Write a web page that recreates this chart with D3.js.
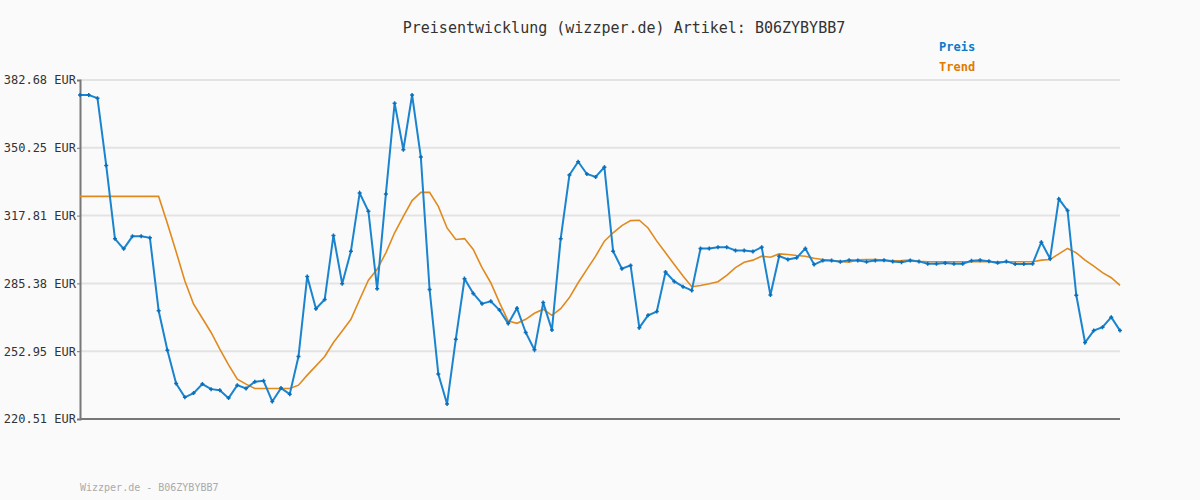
<!DOCTYPE html>
<html>
<head>
<meta charset="utf-8">
<script src="https://cdn.jsdelivr.net/npm/d3@7"></script>
<style>
  body { margin: 0; background: #fafafa; }
  text { font-family: "DejaVu Sans Mono", monospace; }
</style>
</head>
<body>
<svg id="chart" width="1200" height="500"></svg>
<script>
// price history
var preis = [375.5, 375.5, 374.0, 341.8, 306.7, 301.9, 307.9, 307.9, 307.2, 272.3,
  253.4, 237.5, 230.9, 232.9, 237.2, 234.8, 234.3, 230.5, 236.7, 235.1,
  238.3, 238.8, 228.9, 235.3, 232.4, 250.4, 288.7, 273.3, 277.7, 308.3,
  285.2, 300.8, 328.6, 319.9, 282.8, 328.2, 371.6, 349.3, 375.5, 345.8,
  282.5, 242.0, 227.7, 258.7, 287.6, 280.6, 275.7, 276.8, 272.6, 266.2,
  273.5, 261.9, 253.6, 276.2, 263.1, 306.7, 337.2, 343.6, 337.7, 336.3,
  341.0, 300.8, 292.4, 294.0, 264.2, 270.1, 271.9, 290.8, 286.3, 283.8,
  282.0, 302.1, 302.1, 302.7, 302.7, 301.1, 301.1, 300.6, 302.7, 279.8,
  298.4, 296.8, 297.6, 302.1, 294.4, 296.3, 296.3, 295.7, 296.5, 296.3,
  295.7, 296.3, 296.5, 295.9, 295.5, 296.3, 295.9, 294.8, 294.8, 295.1,
  294.8, 294.8, 296.2, 296.5, 296.0, 295.2, 295.9, 294.6, 294.6, 294.8,
  305.1, 297.2, 325.8, 320.2, 279.7, 257.1, 262.8, 264.4, 269.2, 262.8];

var trend = [327.0, 327.0, 327.0, 327.0, 327.0, 327.0, 327.0, 327.0, 327.0, 327.0,
  314.0, 300.5, 286.5, 275.4, 268.7, 261.9, 253.9, 246.4, 239.6, 237.2,
  235.1, 235.1, 235.1, 235.1, 235.1, 236.7, 241.5, 245.9, 250.4, 257.1,
  262.6, 268.2, 277.7, 286.9, 292.1, 300.0, 309.6, 317.5, 325.0, 328.9,
  328.9, 322.2, 311.9, 306.4, 306.8, 301.6, 292.9, 285.7, 276.2, 267.4,
  266.3, 268.2, 271.1, 273.0, 270.1, 273.3, 278.6, 285.7, 292.1, 298.4,
  305.6, 309.6, 313.0, 315.4, 315.6, 311.9, 305.6, 300.0, 294.4, 288.9,
  283.8, 284.4, 285.2, 286.2, 289.2, 292.9, 295.5, 296.5, 298.4, 297.9,
  299.5, 299.2, 298.7, 298.4, 297.4, 296.8, 296.3, 295.9, 295.5, 296.7,
  296.8, 296.8, 296.5, 296.2, 296.3, 296.5, 296.0, 295.7, 295.7, 295.7,
  295.7, 295.7, 295.7, 295.7, 295.7, 295.7, 295.7, 295.7, 295.7, 295.7,
  296.5, 296.8, 299.5, 302.1, 300.0, 296.5, 293.6, 290.5, 288.1, 284.4];

var yTicks = [220.51, 252.95, 285.38, 317.81, 350.25, 382.68];
var artikel = "B06ZYBYBB7";

var svg = d3.select("#chart");
var x = d3.scaleLinear().domain([0, preis.length - 1]).range([80, 1120]);
var y = d3.scaleLinear().domain([220.51, 382.68]).range([419, 80]);

// grid lines
svg.append("g")
  .selectAll("line")
  .data(yTicks.slice(1))
  .enter().append("line")
  .attr("x1", 80).attr("x2", 1120)
  .attr("y1", d => y(d)).attr("y2", d => y(d))
  .attr("stroke", "#e3e3e3").attr("stroke-width", 2);

// y axis
var yAxis = svg.append("g")
  .attr("transform", "translate(80,0)")
  .call(d3.axisLeft(y).tickValues(yTicks).tickSize(3).tickFormat(d => d.toFixed(2) + " EUR"));
yAxis.selectAll("text").attr("font-size", 12).attr("fill", "#333").attr("dx", "2");
yAxis.selectAll("line").attr("stroke", "#777");
yAxis.select(".domain").attr("stroke", "#777").attr("stroke-width", 2);

// x axis line
svg.append("line")
  .attr("x1", 80).attr("x2", 1120).attr("y1", 419).attr("y2", 419)
  .attr("stroke", "#777").attr("stroke-width", 2);

var line = d3.line().x((d, i) => x(i)).y(d => y(d));

svg.append("path").datum(trend)
  .attr("d", line).attr("fill", "none")
  .attr("stroke", "#e08a1e").attr("stroke-width", 1.6);

svg.append("path").datum(preis)
  .attr("d", line).attr("fill", "none")
  .attr("stroke", "#1a84cf").attr("stroke-width", 2);

// plus markers on the price points
svg.append("g").selectAll("path")
  .data(preis)
  .enter().append("path")
  .attr("d", (d, i) => {
    var px = x(i), py = y(d);
    return "M" + (px - 2) + "," + py + "H" + (px + 2) + "M" + px + "," + (py - 2) + "V" + (py + 2);
  })
  .attr("stroke", "#0a6fb8").attr("stroke-width", 1.5);

// title
svg.append("text")
  .attr("x", 624).attr("y", 33).attr("text-anchor", "middle")
  .attr("font-size", 15).attr("fill", "#333")
  .text("Preisentwicklung (wizzper.de) Artikel: " + artikel);

// legend
svg.append("text").attr("x", 939).attr("y", 51)
  .attr("font-size", 12).attr("font-weight", "bold").attr("fill", "#0a7bc8").text("Preis");
svg.append("text").attr("x", 939).attr("y", 71)
  .attr("font-size", 12).attr("font-weight", "bold").attr("fill", "#e07b00").text("Trend");

// footer
svg.append("text").attr("x", 80).attr("y", 491)
  .attr("font-size", 10).attr("fill", "#aaa").text("Wizzper.de - " + artikel);
</script>
</body>
</html>
